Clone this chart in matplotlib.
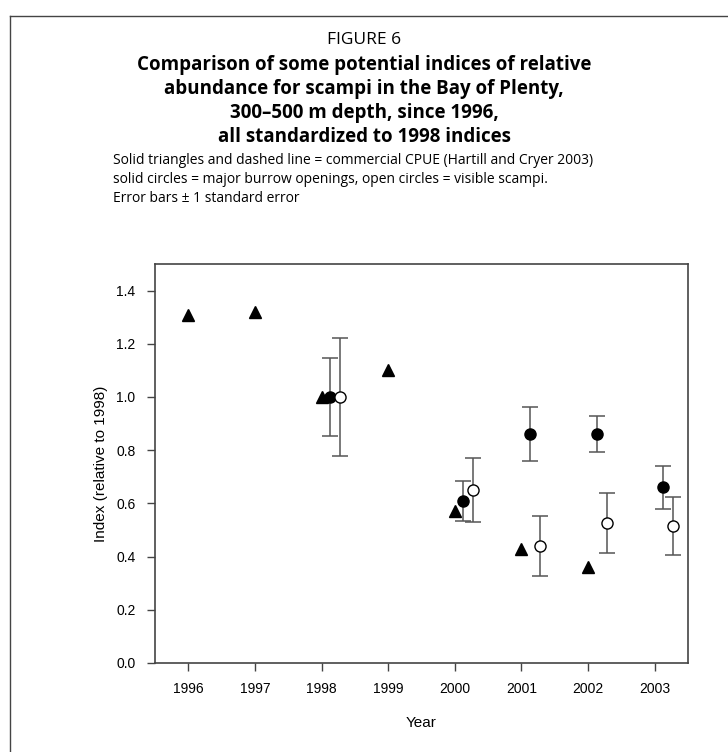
import matplotlib
matplotlib.use("Agg")
import matplotlib.pyplot as plt
from matplotlib.lines import Line2D

# ---- data ----
cpue_years = [1996, 1997, 1998, 1999, 2000, 2001, 2002]
cpue_index = [1.31, 1.32, 1.00, 1.10, 0.57, 0.43, 0.36]

burrow_years = [1998, 2000, 2001, 2002, 2003]
burrow_index = [1.00, 0.61, 0.86, 0.86, 0.66]
burrow_se = [0.146, 0.076, 0.101, 0.068, 0.081]

scampi_years = [1998, 2000, 2001, 2002, 2003]
scampi_index = [1.00, 0.65, 0.44, 0.525, 0.515]
scampi_se = [0.223, 0.119, 0.114, 0.113, 0.108]

xtick_labels = ["1996", "1997", "1998", "1999", "2000", "2001", "2002", "2003"]
yticks = [0.0, 0.2, 0.4, 0.6, 0.8, 1.0, 1.2, 1.4]

# offsets (styling)
burrow_dx = 0.13
scampi_dx = 0.28

W, H = 728, 752
fig = plt.figure(figsize=(W / 100, H / 100), dpi=100)

# outer frame (top and left edges visible)
fig.add_artist(Line2D([10 / W, 10 / W], [0, 1 - 16 / H], color="#444444", lw=1.0))
fig.add_artist(Line2D([10 / W, 1], [1 - 16 / H, 1 - 16 / H], color="#444444", lw=1.0))

title_font = "Open Sans"
fig.text(0.5, 1 - 40 / H, "FIGURE 6", ha="center", va="center", fontsize=12.5, family=title_font)
bold_lines = [
    "Comparison of some potential indices of relative",
    "abundance for scampi in the Bay of Plenty,",
    "300\u2013500 m depth, since 1996,",
    "all standardized to 1998 indices",
]
for i, t in enumerate(bold_lines):
    fig.text(0.5, 1 - (65 + 24 * i) / H, t, ha="center", va="center",
             fontsize=13.5, fontweight="bold", family=title_font)
sub_lines = [
    "Solid triangles and dashed line = commercial CPUE (Hartill and Cryer 2003)",
    "solid circles = major burrow openings, open circles = visible scampi.",
    "Error bars \u00b1 1 standard error",
]
for i, t in enumerate(sub_lines):
    fig.text(113 / W, 1 - (161 + 18.5 * i) / H, t, ha="left", va="center",
             fontsize=10, family=title_font)

ax = fig.add_axes([155 / W, 1 - 663 / H, (688 - 155) / W, (663 - 264) / H])

ax.plot(cpue_years, cpue_index, linestyle="none", marker="^", color="black",
        markersize=8.5, zorder=3)
ax.errorbar([y + burrow_dx for y in burrow_years], burrow_index, yerr=burrow_se,
            fmt="o", color="black", ecolor="#555555", elinewidth=1.1, capsize=5.5,
            capthick=1.1, markersize=8, zorder=3)
ax.errorbar([y + scampi_dx for y in scampi_years], scampi_index, yerr=scampi_se,
            fmt="o", mfc="white", mec="black", color="black", ecolor="#555555",
            elinewidth=1.1, capsize=5.5, capthick=1.1, markersize=8, zorder=3)

ax.set_xlim(1995.5, 2003.5)
ax.set_ylim(0, 1.5)
ax.set_xticks(range(1996, 2004))
ax.set_xticklabels(xtick_labels)
ax.set_yticks(yticks)
ax.set_yticklabels([f"{v:.1f}" for v in yticks])

tick_font = "Liberation Sans"
for lab in ax.get_xticklabels() + ax.get_yticklabels():
    lab.set_family(tick_font)
    lab.set_fontsize(10)
ax.tick_params(direction="out", length=6, width=1, color="#444444", pad=8)
for s in ax.spines.values():
    s.set_color("#444444")
    s.set_linewidth(1.2)

ax.set_xlabel("Year", family=tick_font, fontsize=11, labelpad=14)
ax.set_ylabel("Index (relative to 1998)", family=tick_font, fontsize=11, labelpad=6)

fig.savefig("out.png", dpi=100)
